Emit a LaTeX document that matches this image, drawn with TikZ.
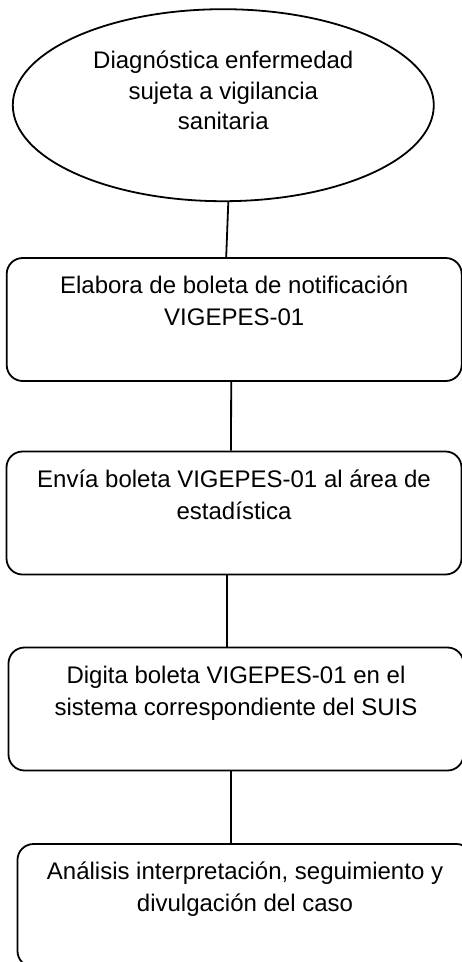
\documentclass[tikz,border=0pt]{standalone}
\usepackage{fontspec}
\setmainfont{Liberation Sans}
\usetikzlibrary{shapes.geometric}
\begin{document}
\begin{tikzpicture}[x=1pt,y=-1pt,
  every node/.style={font=\fontsize{24}{32}\selectfont, align=center, inner sep=0pt},
  stepbox/.style={draw, line width=1.8pt, rounded corners=16pt, minimum width=455pt, minimum height=123pt},
  startell/.style={draw, ellipse, line width=1.8pt, minimum width=421pt, minimum height=192pt, font=\fontsize{24}{30.5}\selectfont},
  link/.style={line width=1.8pt}]
\useasboundingbox (0,0) rectangle (461,962);
\node[startell] (e) at (223.3,105.2) {\strut Diagnóstica enfermedad\\ \strut sujeta a vigilancia\\ \strut sanitaria\\ \rule[-3.15pt]{0pt}{1pt}};
\node[stepbox] (b1) at (234.2,319.5) {\strut Elabora de boleta de notificación\\ \strut VIGEPES-01\\ \strut};
\node[stepbox] (b2) at (234,513) {\strut Envía boleta VIGEPES-01 al área de\\ \strut estadística\\ \strut};
\node[stepbox] (b3) at (236,709) {\strut Digita boleta VIGEPES-01 en el\\ \strut sistema correspondiente del SUIS\\ \strut};
\node[stepbox] (b4) at (245,905.5) {\strut Análisis interpretación, seguimiento y\\ \strut divulgación del caso\\ \strut};
\draw[link] ([xshift=5pt]e.south) -- ([xshift=-8pt]b1.north);
\draw[link] ([xshift=-3pt]b1.south) -- ([xshift=-3pt]b2.north);
\draw[link] ([xshift=-7pt]b2.south) -- ([xshift=-9pt]b3.north);
\draw[link] ([xshift=-5pt]b3.south) -- ([xshift=-14pt]b4.north);
\end{tikzpicture}
\end{document}
